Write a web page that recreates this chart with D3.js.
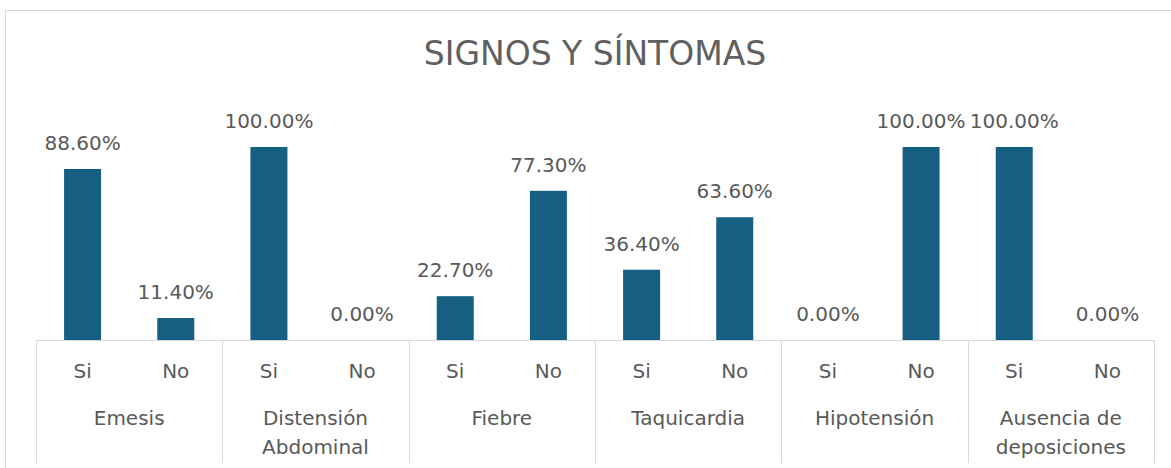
<!DOCTYPE html>
<html>
<head>
<meta charset="utf-8">
<script src="https://cdn.jsdelivr.net/npm/d3@7"></script>
<style>
  body { margin: 0; background: #fff; }
  text { font-family: "DejaVu Sans", sans-serif; fill: #595959; }
</style>
</head>
<body>
<div id="chart"></div>
<script>
const width = 1171, height = 468;

// data
const groups = ["Emesis", "Distensión Abdominal", "Fiebre", "Taquicardia", "Hipotensión", "Ausencia de deposiciones"];
const groupLines = [["Emesis"], ["Distensión", "Abdominal"], ["Fiebre"], ["Taquicardia"], ["Hipotensión"], ["Ausencia de", "deposiciones"]];
const answers = ["Si", "No"];
const siValues = [88.6, 100, 22.7, 36.4, 0, 100];
const noValues = [11.4, 0, 77.3, 63.6, 100, 0];

const rows = [];
groups.forEach((g, i) => {
    rows.push({ group: g, answer: "Si", value: siValues[i] });
    rows.push({ group: g, answer: "No", value: noValues[i] });
});

const svg = d3.select("#chart").append("svg")
    .attr("width", width)
    .attr("height", height);

// chart area border (cropped on right and bottom)
svg.append("path")
    .attr("d", `M5.5,${height} V10.5 H${width}`)
    .attr("fill", "none")
    .attr("stroke", "#d9d9d9");

svg.append("text")
    .attr("x", 595)
    .attr("y", 65)
    .attr("text-anchor", "middle")
    .style("font-size", "33px")
    .style("fill", "#606060")
    .text("SIGNOS Y SÍNTOMAS");

const x0 = 36, x1 = 1154, baseY = 340;

const xGroup = d3.scaleBand().domain(groups).range([x0, x1]);
const xInner = d3.scaleBand().domain(answers).range([0, xGroup.bandwidth()]);
const y = d3.scaleLinear().domain([0, 100]).range([baseY, 147]);

const barW = 37;

const g = svg.append("g");
g.selectAll("rect")
    .data(rows)
    .enter().append("rect")
    .attr("x", d => xGroup(d.group) + xInner(d.answer) + xInner.bandwidth() / 2 - barW / 2)
    .attr("y", d => y(d.value))
    .attr("width", barW)
    .attr("height", d => baseY - y(d.value))
    .attr("fill", "#156082");

g.selectAll(".val")
    .data(rows)
    .enter().append("text")
    .attr("class", "val")
    .attr("x", d => xGroup(d.group) + xInner(d.answer) + xInner.bandwidth() / 2)
    .attr("y", d => y(d.value) - 19)
    .attr("text-anchor", "middle")
    .style("font-size", "20px")
    .text(d => d.value.toFixed(2) + "%");

// category axis: baseline, group separators
const axis = svg.append("g").attr("stroke", "#d9d9d9").attr("fill", "none");
axis.append("line")
    .attr("x1", x0).attr("x2", x1)
    .attr("y1", baseY + 0.5).attr("y2", baseY + 0.5);
const seps = groups.map(gr => xGroup(gr)).concat([x1]);
axis.selectAll(".sep")
    .data(seps)
    .enter().append("line")
    .attr("x1", d => Math.round(d) + 0.5).attr("x2", d => Math.round(d) + 0.5)
    .attr("y1", baseY).attr("y2", 463);

svg.selectAll(".ans")
    .data(rows)
    .enter().append("text")
    .attr("class", "ans")
    .attr("x", d => xGroup(d.group) + xInner(d.answer) + xInner.bandwidth() / 2)
    .attr("y", 378)
    .attr("text-anchor", "middle")
    .style("font-size", "20px")
    .text(d => d.answer);

const gl = svg.selectAll(".grp")
    .data(groups)
    .enter().append("text")
    .attr("class", "grp")
    .attr("x", d => xGroup(d) + xGroup.bandwidth() / 2)
    .attr("y", 425)
    .attr("text-anchor", "middle")
    .style("font-size", "20px");
gl.selectAll("tspan")
    .data((d, i) => groupLines[i])
    .enter().append("tspan")
    .attr("x", function () { return d3.select(this.parentNode).attr("x"); })
    .attr("dy", (d, i) => i === 0 ? 0 : 29)
    .text(d => d);
</script>
</body>
</html>
